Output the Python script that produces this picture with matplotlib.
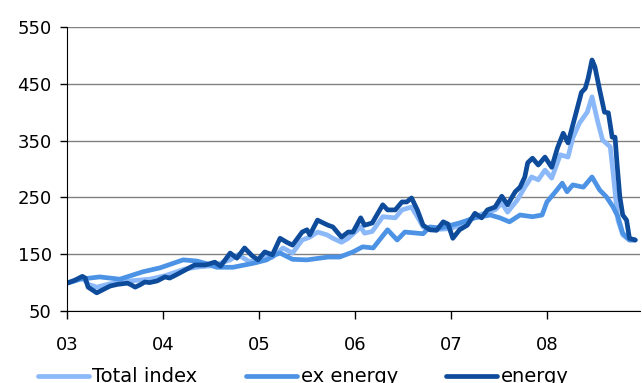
import matplotlib
matplotlib.use("Agg")
import matplotlib.pyplot as plt
import numpy as np

# commodity price indices, 2003 = 100; time in years since Jan 2003
t_total = [0.00, 0.16, 0.22, 0.31, 0.45, 0.66, 0.86, 1.02, 1.23, 1.39, 1.54, 1.61, 1.70, 1.78,
           1.89, 1.98, 2.06, 2.14, 2.25, 2.35, 2.45, 2.53, 2.61, 2.71, 2.77, 2.86, 2.93, 3.06,
           3.10, 3.18, 3.29, 3.42, 3.49, 3.59, 3.65, 3.71, 3.78, 3.89, 3.99, 4.09, 4.25, 4.38,
           4.46, 4.53, 4.59, 4.69, 4.77, 4.84, 4.91, 4.98, 5.05, 5.14, 5.22, 5.27, 5.34, 5.42,
           5.47, 5.53, 5.58, 5.66, 5.69, 5.74, 5.79, 5.86, 5.92]
total = [99, 109, 97, 92, 98, 103, 106, 112, 124, 128, 130, 135, 140, 149,
         138, 136, 145, 145, 161, 152, 175, 180, 189, 184, 178, 171, 178, 198,
         187, 190, 216, 214, 228, 233, 216, 198, 193, 194, 195, 201, 216, 224,
         228, 240, 224, 245, 268, 286, 281, 298, 284, 325, 321, 355, 381, 400,
         427, 383, 351, 339, 293, 210, 184, 175, 175]

t_ex = [0.00, 0.14, 0.24, 0.34, 0.55, 0.79, 0.97, 1.21, 1.35, 1.44, 1.56, 1.73, 1.94, 2.08,
        2.17, 2.22, 2.35, 2.50, 2.72, 2.84, 2.98, 3.08, 3.19, 3.34, 3.44, 3.52, 3.65, 3.71,
        3.78, 3.89, 4.09, 4.25, 4.41, 4.51, 4.61, 4.72, 4.85, 4.95, 5.00, 5.08, 5.16, 5.21,
        5.27, 5.38, 5.47, 5.55, 5.62, 5.69, 5.74, 5.79, 5.86, 5.92]
ex_energy = [99, 106, 108, 110, 106, 119, 126, 140, 138, 134, 127, 127, 134, 140,
             149, 152, 141, 140, 145, 145, 154, 163, 161, 193, 175, 189, 187, 186,
             198, 196, 205, 214, 219, 214, 207, 219, 216, 219, 242, 258, 275, 260,
             272, 268, 286, 263, 251, 233, 216, 187, 175, 175]

t_energy = [0.00, 0.08, 0.16, 0.19, 0.22, 0.31, 0.38, 0.45, 0.53, 0.63, 0.67, 0.71, 0.76, 0.81,
            0.86, 0.94, 1.02, 1.07, 1.13, 1.23, 1.33, 1.44, 1.54, 1.60, 1.70, 1.77, 1.85, 1.93,
            1.99, 2.06, 2.14, 2.22, 2.29, 2.35, 2.45, 2.50, 2.53, 2.61, 2.67, 2.72, 2.77, 2.86,
            2.93, 2.98, 3.06, 3.10, 3.18, 3.29, 3.34, 3.42, 3.49, 3.54, 3.59, 3.65, 3.71, 3.78,
            3.85, 3.92, 3.97, 4.02, 4.09, 4.17, 4.25, 4.32, 4.38, 4.46, 4.53, 4.59, 4.67, 4.72,
            4.77, 4.80, 4.85, 4.91, 4.98, 5.05, 5.11, 5.17, 5.22, 5.29, 5.36, 5.40, 5.43, 5.47,
            5.50, 5.55, 5.60, 5.64, 5.68, 5.71, 5.73, 5.76, 5.79, 5.83, 5.86, 5.92]
energy = [99, 104, 111, 108, 92, 82, 88, 94, 97, 99, 96, 92, 96, 101,
          100, 103, 110, 108, 113, 122, 131, 131, 136, 129, 152, 143, 161, 147,
          140, 154, 149, 178, 171, 166, 189, 193, 184, 210, 205, 201, 198, 180,
          189, 189, 214, 201, 205, 237, 228, 228, 242, 242, 249, 228, 201, 193,
          192, 207, 203, 178, 193, 201, 222, 214, 228, 233, 252, 237, 260, 268,
          286, 311, 319, 307, 321, 303, 337, 363, 346, 390, 435, 442, 460, 492,
          480, 439, 400, 399, 356, 356, 311, 251, 219, 210, 178, 175]

year_labels = ["03", "04", "05", "06", "07", "08"]
y_ticks = [50, 150, 250, 350, 450, 550]

plt.rcParams["font.family"] = "DejaVu Sans"
plt.rcParams["font.size"] = 13

fig = plt.figure(figsize=(6.42, 3.83), dpi=100)
ax = fig.add_axes([67 / 642, 1 - 311 / 383, 573 / 642, 284 / 383])

lw = 3.4
ax.plot(t_total, total, color="#8ab8f8", lw=lw, solid_joinstyle="round", solid_capstyle="round",
        label="Total index")
ax.plot(t_ex, ex_energy, color="#4d93e5", lw=lw, solid_joinstyle="round", solid_capstyle="round",
        label="ex energy")
ax.plot(t_energy, energy, color="#0e4c9b", lw=lw, solid_joinstyle="round", solid_capstyle="round",
        label="energy")

ax.set_xlim(0, 5.97)
ax.set_ylim(50, 550)
ax.set_yticks(y_ticks)
ax.set_xticks(range(len(year_labels)))
ax.set_xticklabels(year_labels)
ax.yaxis.grid(True, color="#808080", lw=1)
ax.set_axisbelow(True)
for s in ["top", "right"]:
    ax.spines[s].set_visible(False)
ax.spines["left"].set_color("black")
ax.spines["bottom"].set_color("black")
ax.tick_params(axis="y", direction="out", length=5, width=1, pad=6)
ax.tick_params(axis="x", direction="out", length=6, width=1, pad=12)

fig.legend(loc="center left", bbox_to_anchor=(38 / 642, 1 - 377 / 383), ncol=3, frameon=False,
           borderpad=0, borderaxespad=0, handlelength=2.6, handletextpad=0.2, columnspacing=2.5,
           fontsize=14)

fig.savefig("out.png", dpi=100)
